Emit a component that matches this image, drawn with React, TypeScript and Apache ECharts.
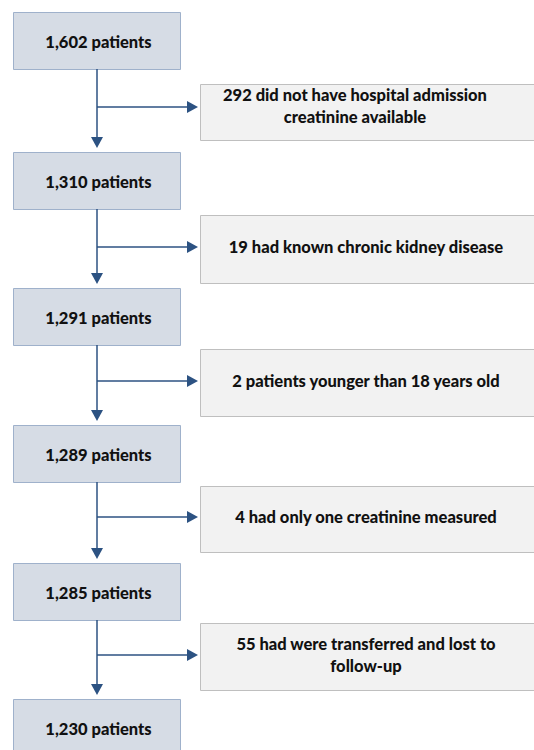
import React, { useEffect, useRef } from "react";
import * as echarts from "echarts";

// Data: flow counts and exclusion texts
const stageCounts = ["1,602 patients", "1,310 patients", "1,291 patients", "1,289 patients", "1,285 patients", "1,230 patients"];
const exclusionTexts = [
  "292 did not have hospital admission\ncreatinine available",
  "19 had known chronic kidney disease",
  "2 patients younger than 18 years old",
  "4 had only one creatinine measured",
  "55 had were transferred and lost to\nfollow-up",
];

// Layout (pixels)
const leftTops = [12, 152, 288, 425, 563, 699];
const leftH = 57;
const leftX = 13;
const leftW = 167;
const rightTops = [84, 215, 349, 486, 623];
const rightBottoms = [140, 283, 416, 552, 690];
const branchYs = [107, 247, 381, 517, 655];
const textYs = [106, 247, 381, 517, 655];
const textXs = [355, 366, 366, 366, 366];
const rightX = 200;
const rightW = 340;
const stemX = 97;

const FONT = "Lato, 'Open Sans', sans-serif";
const ARROW = "#2c5282";

export default function App() {
  const ref = useRef<HTMLDivElement>(null);
  useEffect(() => {
    document.body.style.margin = "0";
    const chart = echarts.init(ref.current!, null, { renderer: "svg" });
    const els: any[] = [];
    stageCounts.forEach((label, i) => {
      els.push({
        type: "rect",
        shape: { x: leftX + 0.5, y: leftTops[i] + 0.5, width: leftW, height: leftH },
        style: { fill: "#d6dce5", stroke: "#9fb1cb", lineWidth: 1 },
      });
      els.push({
        type: "text",
        x: stemX + 1.5,
        y: leftTops[i] + leftH / 2 + 1,
        style: {
          text: label,
          fill: "#111",
          font: `900 16.5px ${FONT}`,
          align: "center",
          verticalAlign: "middle",
        },
      });
    });
    exclusionTexts.forEach((label, i) => {
      els.push({
        type: "rect",
        shape: { x: rightX + 0.5, y: rightTops[i] + 0.5, width: rightW, height: rightBottoms[i] - rightTops[i] },
        style: { fill: "#f2f2f2", stroke: "#bfbfbf", lineWidth: 1 },
      });
      els.push({
        type: "text",
        x: textXs[i],
        y: textYs[i],
        style: {
          text: label,
          fill: "#111",
          font: `900 16.5px ${FONT}`,
          lineHeight: 22,
          align: "center",
          verticalAlign: "middle",
        },
      });
      const top = leftTops[i] + leftH;
      const tipY = leftTops[i + 1] - 4;
      // vertical stem
      els.push({
        type: "line",
        shape: { x1: stemX, y1: top, x2: stemX, y2: tipY - 10 },
        style: { stroke: ARROW, lineWidth: 1.5 },
      });
      els.push({
        type: "polygon",
        shape: { points: [[stemX - 6, tipY - 11], [stemX + 6, tipY - 11], [stemX, tipY]] },
        style: { fill: ARROW },
      });
      // branch
      const by = branchYs[i];
      els.push({
        type: "line",
        shape: { x1: stemX, y1: by, x2: 188, y2: by },
        style: { stroke: ARROW, lineWidth: 1.5 },
      });
      els.push({
        type: "polygon",
        shape: { points: [[187, by - 6], [187, by + 6], [198, by]] },
        style: { fill: ARROW },
      });
    });
    chart.setOption({
      animation: false,
      backgroundColor: "#ffffff",
      graphic: { elements: els },
    });
    return () => chart.dispose();
  }, []);
  return <div ref={ref} style={{ width: 534, height: 750 }} />;
}
